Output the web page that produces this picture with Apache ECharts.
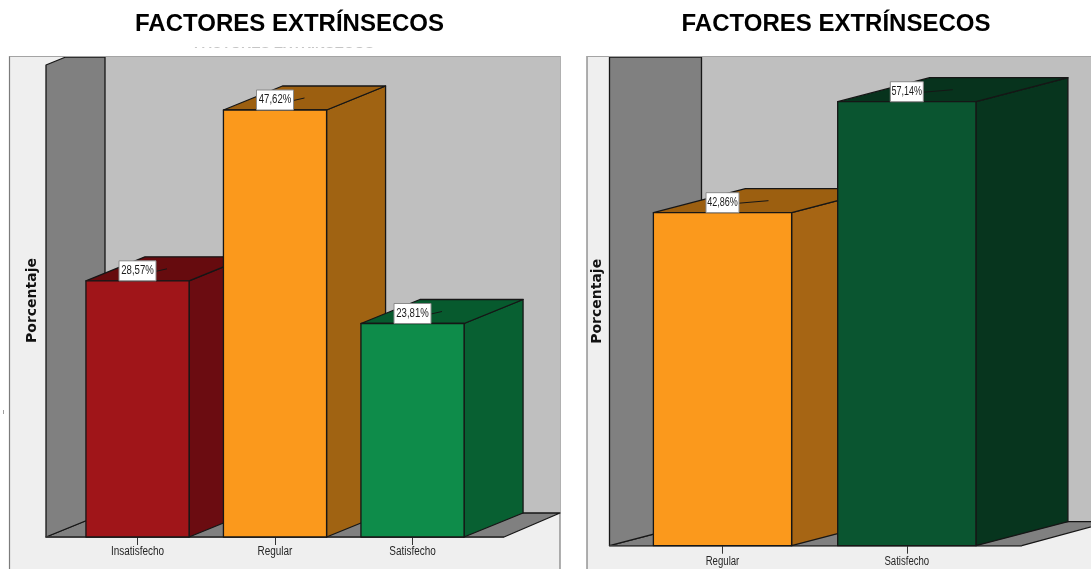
<!DOCTYPE html>
<html>
<head>
<meta charset="utf-8">
<style>html,body{margin:0;padding:0;background:#fff}#chart{width:1091px;height:569px}</style>
<script src="https://cdn.jsdelivr.net/npm/echarts@6/dist/echarts.min.js"></script>
</head>
<body>
<div id="chart"></div>
<script>
// Percentages per satisfaction level, one pair of arrays per panel
const titleText = 'FACTORES EXTRÍNSECOS';
const axisName = 'Porcentaje';
const categoriesLeft = ['Insatisfecho', 'Regular', 'Satisfecho'];
const valuesLeft = [28.57, 47.62, 23.81];
const categoriesRight = ['Regular', 'Satisfecho'];
const valuesRight = [42.86, 57.14];

// Face colours of each bar: front, side, top
const shadesLeft = [
  ['#a01519', '#6b0c11', '#660b0e'],
  ['#fb991c', '#a06312', '#9c5f10'],
  ['#0e8c4a', '#086032', '#075a2e']
];
const shadesRight = [
  ['#fb991c', '#a66514', '#9c5f10'],
  ['#0a5530', '#07351e', '#07331d']
];

const LINE = '#161616';
const BODY_FONT = '12px "Liberation Sans", sans-serif';

const panels = [
  { categories: categoriesLeft, values: valuesLeft, shades: shadesLeft,
    left: 68.75, width: 412.5, top: 57, bottom: 537, pxPerUnit: 8.967,
    dx: 59, dy: -24, padL: 91.5, padR: 91.5, frameL: 9.5, frameR: 560, wallFrontTop: 65,
    boxW: 37, valueSquash: 0.8, catSquash: 0.83, catDrop: 15,
    titleX: 284.5, nameGap: 29, namePad: [0, 7, 0, 0] },
  { categories: categoriesRight, values: valuesRight, shades: shadesRight,
    left: 630.35, width: 368.6, top: 57, bottom: 545.7, pxPerUnit: 7.77,
    dx: 92, dy: -24, padL: 113, padR: 115, frameL: 587, frameR: 1110, wallFrontTop: 57,
    boxW: 33, valueSquash: 0.75, catSquash: 0.8, catDrop: 16,
    titleX: 831, nameGap: 26, namePad: [0, 0, 0, 0] }
];

const poly = (points, fill) => ({
  type: 'polygon',
  shape: { points },
  style: { fill, stroke: LINE, lineWidth: 1.3, lineJoin: 'round' }
});

// Walls and floor of the box the bars stand in
function roomRenderer(p) {
  return (params, api) => {
    const base = api.coord([0, 0])[1];
    const top = p.top;
    const l = api.coord([0, 0])[0] - p.padL;
    const r = api.coord([p.categories.length - 1, 0])[0] + p.padR;
    const backY = base + p.dy;
    const corner = (p.wallFrontTop - top) / -p.dy * p.dx;
    const floorEnd = Math.min(r + p.dx, p.frameR);
    return {
      type: 'group',
      children: [
        { type: 'rect', shape: { x: l + p.dx, y: top, width: p.frameR - l - p.dx, height: backY - top },
          style: { fill: '#bfbfbf' } },
        poly([[l, base], [r, base], [floorEnd, backY], [l + p.dx, backY]], '#808080'),
        poly([[l, base], [l + p.dx, backY], [l + p.dx, top], [l + corner, top], [l, p.wallFrontTop]], '#808080'),
        { type: 'line', shape: { x1: l, y1: base, x2: r, y2: base },
          style: { stroke: '#3c3c3c', lineWidth: 1.6 } }
      ]
    };
  };
}

// One extruded bar with its category name, value label and the leader to the top face
function barRenderer(p) {
  return (params, api) => {
    const i = api.value(0);
    const v = api.value(1);
    const head = api.coord([i, v]);
    const foot = api.coord([i, 0]);
    const w = api.size([1, 0])[0] * 0.75;
    const x0 = head[0] - w / 2;
    const x1 = head[0] + w / 2;
    const y0 = head[1];
    const y1 = foot[1];
    const { dx, dy } = p;
    const [front, side, topFace] = p.shades[params.dataIndex];
    const text = v.toFixed(2).replace('.', ',') + '%';
    return {
      type: 'group',
      children: [
        poly([[x1, y0], [x1 + dx, y0 + dy], [x1 + dx, y1 + dy], [x1, y1]], side),
        poly([[x0, y0], [x0 + dx, y0 + dy], [x1 + dx, y0 + dy], [x1, y0]], topFace),
        poly([[x0, y0], [x1, y0], [x1, y1], [x0, y1]], front),
        { type: 'line',
          shape: { x1: head[0] + p.boxW / 2, y1: y0 + dy / 2 + 2.5, x2: head[0] + dx / 2, y2: y0 + dy / 2 },
          style: { stroke: LINE, lineWidth: 1 } },
        { type: 'rect', shape: { x: head[0] - p.boxW / 2, y: y0 - 20, width: p.boxW, height: 20 },
          style: { fill: '#ffffff', stroke: '#8a8a8a', lineWidth: 1 } },
        { type: 'text', x: head[0], y: y0 - 10, scaleX: p.valueSquash,
          style: { text, align: 'center', verticalAlign: 'middle', fill: '#1c1c1c', font: BODY_FONT } },
        { type: 'text', x: head[0], y: y1 + p.catDrop, scaleX: p.catSquash,
          style: { text: p.categories[i], align: 'center', verticalAlign: 'middle', fill: '#262626', font: BODY_FONT } }
      ]
    };
  };
}

const option = {
  animation: false,
  backgroundColor: '#ffffff',
  title: panels.map(p => ({
    text: titleText, left: p.titleX, top: 7, textAlign: 'center',
    textStyle: { fontFamily: 'Liberation Sans', fontWeight: 'bold', fontSize: 24, color: '#000000' }
  })),
  grid: panels.map(p => ({
    left: p.left, width: p.width, top: p.top, height: p.bottom - p.top
  })),
  xAxis: panels.map((p, i) => ({
    type: 'category', gridIndex: i, data: p.categories,
    axisLine: { show: false },
    axisTick: { show: true, alignWithLabel: true, length: 8, lineStyle: { color: '#333333', width: 1 } },
    axisLabel: { show: false }
  })),
  yAxis: panels.map((p, i) => ({
    type: 'value', gridIndex: i, min: 0, max: (p.bottom - p.top) / p.pxPerUnit,
    name: axisName, nameLocation: 'middle', nameGap: p.nameGap,
    nameTextStyle: { fontFamily: 'DejaVu Sans', fontWeight: 'bold', fontSize: 14, color: '#111111', padding: p.namePad },
    axisLine: { show: false }, axisTick: { show: false },
    axisLabel: { show: false }, splitLine: { show: false }
  })),
  series: panels.flatMap((p, i) => [
    { type: 'custom', xAxisIndex: i, yAxisIndex: i, z: 2, silent: true,
      renderItem: roomRenderer(p), data: [[0, 0]], encode: { x: 0, y: 1 } },
    { type: 'custom', xAxisIndex: i, yAxisIndex: i, z: 3, silent: true,
      renderItem: barRenderer(p), data: p.values.map((v, k) => [k, v]), encode: { x: 0, y: 1 } }
  ]),
  graphic: { elements: [
    // Clipped remainder of an older heading above the left frame
    { type: 'text', z: 1, x: 284, y: 51,
      style: { text: titleText, align: 'center', verticalAlign: 'bottom', fill: '#8a8a8a',
               font: 'bold 14px "Liberation Sans"' } },
    { type: 'rect', z: 1.5, shape: { x: 180, y: 34, width: 210, height: 13.5 }, style: { fill: '#ffffff' } },
    { type: 'rect', z: 1.5, shape: { x: 180, y: 50, width: 210, height: 6 }, style: { fill: '#ffffff' } },
    { type: 'rect', z: 0, shape: { x: 3, y: 410, width: 1, height: 4 }, style: { fill: '#a0a0a0' } },
    // Chart frames
    ...panels.map(p => ({
      type: 'rect', z: 0,
      shape: { x: p.frameL, y: 56.5, width: p.frameR - p.frameL, height: 530 },
      style: { fill: '#efefef', stroke: '#7c7c7c', lineWidth: 1.2 }
    })),
    ...panels.map(p => ({
      type: 'line', z: 4,
      shape: { x1: p.frameL, y1: 56.5, x2: p.frameR, y2: 56.5 },
      style: { stroke: '#a4a4a4', lineWidth: 1.2 }
    }))
  ] }
};

const chart = echarts.init(document.getElementById('chart'), null, { renderer: 'canvas' });
chart.setOption(option);
</script>
</body>
</html>
